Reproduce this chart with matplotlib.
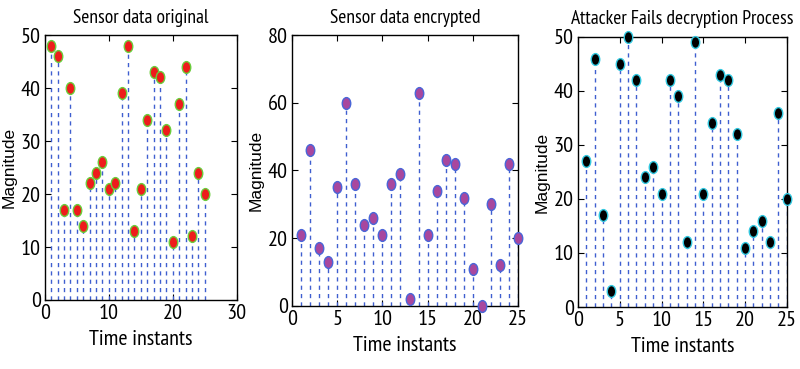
import numpy as np
import matplotlib.pyplot as plt
from matplotlib.path import Path
from matplotlib.transforms import Affine2D

t = np.arange(1, 26)

original = [48, 46, 17, 40, 17, 14, 22, 24, 26, 21, 22, 39, 48, 13, 21,
            34, 43, 42, 32, 11, 37, 44, 12, 24, 20]
encrypted = [21, 46, 17, 13, 35, 60, 36, 24, 26, 21, 36, 39, 2, 63, 21,
             34, 43, 42, 32, 11, 0, 30, 12, 42, 20]
attacker = [27, 46, 17, 3, 45, 50, 42, 24, 26, 21, 42, 39, 12, 49, 21,
            34, 43, 42, 32, 11, 14, 16, 12, 36, 20]

titles = ["Sensor data original", "Sensor data encrypted",
          "Attacker Fails decryption Process"]

narrow = ['PT Sans Narrow', 'Archivo Narrow', 'Liberation Sans', 'DejaVu Sans']
regular = ['Liberation Sans', 'DejaVu Sans']

# squashed ellipse marker, the original image was compressed sideways
ell = Path.unit_circle().transformed(Affine2D().scale(0.72, 1.0))

fig = plt.figure(figsize=(8, 3.69), dpi=100)


def panel(rect, y, face, edge, title, xlim, xticks, ylim, yticks):
    ax = fig.add_axes(rect)
    ml, sl, bl = ax.stem(t, y, basefmt=' ')
    plt.setp(sl, color='#3f5fd0', linestyle=(0, (3, 3)), linewidth=1.0)
    plt.setp(ml, marker=ell, markersize=8.5, markerfacecolor=face,
             markeredgecolor=edge, markeredgewidth=1.0, zorder=3)
    ml.set_clip_on(False)
    ax.set_xlim(*xlim)
    ax.set_ylim(*ylim)
    ax.set_xticks(xticks)
    ax.set_yticks(yticks)
    ax.tick_params(direction='in', top=True, right=True, length=4,
                   labelsize=16, pad=3)
    for lab in ax.get_xticklabels() + ax.get_yticklabels():
        lab.set_family(narrow)
    ax.set_title(title, family=narrow, fontsize=14, pad=9)
    ax.set_xlabel("Time instants", family=narrow, fontsize=16, labelpad=5)
    ax.set_ylabel("Magnitude", family=regular, fontsize=12.5, labelpad=3)
    for s in ax.spines.values():
        s.set_linewidth(1.0)
    return ax


panel([0.056, 0.187, 0.24, 0.718], original, '#ee1c1c', '#6acd3c',
      titles[0], (0, 30), [0, 10, 20, 30], (0, 50), [0, 10, 20, 30, 40, 50])

panel([0.365, 0.171, 0.2825, 0.734], encrypted, '#a8479e', '#4a66d8',
      titles[1], (0, 25), [0, 5, 10, 15, 20, 25], (0, 80), [0, 20, 40, 60, 80])

panel([0.7225, 0.168, 0.261, 0.732], attacker, '#000000', '#33c8e0',
      titles[2], (0, 25), [0, 5, 10, 15, 20, 25], (0, 50), [0, 10, 20, 30, 40, 50])

fig.savefig("out.png", dpi=100)
